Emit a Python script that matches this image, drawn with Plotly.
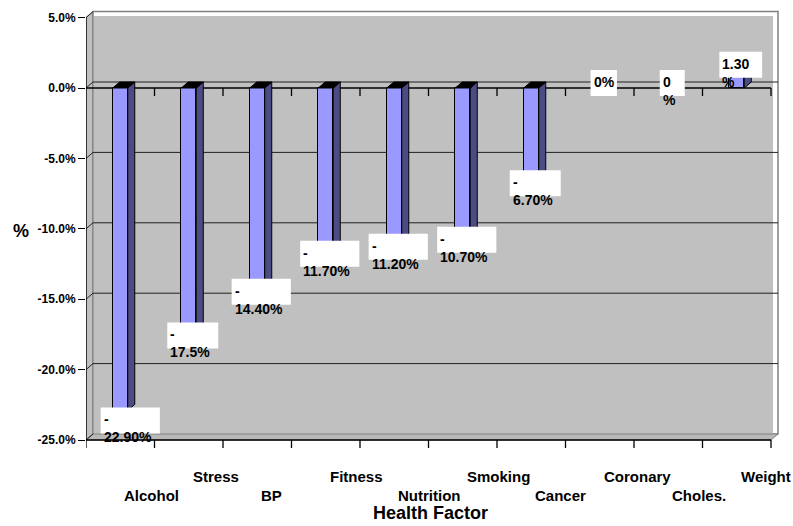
import plotly.graph_objects as go

# ---- data -------------------------------------------------------------
categories = ["Alcohol", "Stress", "BP", "Fitness", "Nutrition",
              "Smoking", "Cancer", "Coronary", "Choles.", "Weight"]
change_pct = [-22.9, -17.5, -14.4, -11.7, -11.2, -10.7, -6.7, 0.0, 0.0, 1.3]
value_labels = ["-<br>22.90%", "-<br>17.5%", "-<br>14.40%", "-<br>11.70%",
                "-<br>11.20%", "-<br>10.70%", "-<br>6.70%", "0%", "0<br>%",
                "1.30<br>%"]
y_tick_vals = [5, 0, -5, -10, -15, -20, -25]
y_tick_text = ["5.0%", "0.0%", "-5.0%", "-10.0%", "-15.0%", "-20.0%", "-25.0%"]

# ---- geometry / style ---------------------------------------------------
W, H = 793, 526
ML, MR, MT, MB = 86, 13, 10, 76
PX_CAT = 68.5          # pixels per category
PX_PCT = 14.08         # pixels per percentage point
ZERO_PX = 88           # pixel row of 0 %
Y_MIN, Y_MAX = -25, 5
X_LO = -0.5
X_HI = len(categories) - 0.5

x_range = [X_LO, X_LO + (W - ML - MR) / PX_CAT]
y_range = [-(H - MB - ZERO_PX) / PX_PCT, (ZERO_PX - MT) / PX_PCT]

DX = 7 / PX_CAT        # 3-D depth offset (x, data units)
DY = 6 / PX_PCT        # 3-D depth offset (y, data units)
BAR_W = 0.219

FRONT = "#9999FF"
SIDE = "#4C4C84"
TOPC = "#000000"
WALL = "#C0C0C0"
EDGE = "#808080"
FONT = "Arial, Liberation Sans, sans-serif"

# per-label nudges (px) for a couple of crowded data labels
label_nudge = {0: (6, -9)}

fig = go.Figure()

# front faces of the columns
fig.add_trace(go.Bar(
    x=list(range(len(categories))), y=change_pct, width=BAR_W,
    marker=dict(color=FRONT, line=dict(color="black", width=1)),
    hoverinfo="skip", showlegend=False))

# side and top faces
for i, v in enumerate(change_pct):
    if v == 0:
        continue
    r = i + BAR_W / 2
    l = i - BAR_W / 2
    fig.add_trace(go.Scatter(
        x=[r, r + DX, r + DX, r, r], y=[0, DY, v + DY, v, 0],
        mode="lines", fill="toself", fillcolor=SIDE,
        line=dict(color="black", width=1), hoverinfo="skip", showlegend=False))
    top = max(v, 0)
    fig.add_trace(go.Scatter(
        x=[l, r, r + DX, l + DX, l], y=[top, top, top + DY, top + DY, top],
        mode="lines", fill="toself",
        fillcolor=TOPC if v < 0 else "#7A7ACC",
        line=dict(color="black", width=1), hoverinfo="skip", showlegend=False))

shapes = []


def poly(pts):
    return "M " + " L ".join(f"{x},{y}" for x, y in pts) + " Z"


# side wall
shapes.append(dict(type="path", layer="below", xref="x", yref="y",
                   path=poly([(X_LO, Y_MIN), (X_LO, Y_MAX),
                              (X_LO + DX, Y_MAX + DY), (X_LO + DX, Y_MIN + DY)]),
                   fillcolor=WALL, line=dict(color=EDGE, width=1)))
# back wall (white rim + grey panel)
shapes.append(dict(type="rect", layer="below", xref="x", yref="y",
                   x0=X_LO + DX, x1=X_HI + DX, y0=Y_MIN + DY, y1=Y_MAX + DY,
                   fillcolor="white", line=dict(color=EDGE, width=1.5)))
shapes.append(dict(type="rect", layer="below", xref="x", yref="y",
                   x0=X_LO + DX + 1 / PX_CAT, x1=X_HI + DX - 5 / PX_CAT,
                   y0=Y_MIN + DY, y1=Y_MAX + DY - 4.5 / PX_PCT,
                   fillcolor=WALL, line=dict(width=0)))
# floor
shapes.append(dict(type="path", layer="below", xref="x", yref="y",
                   path=poly([(X_LO, Y_MIN), (X_HI, Y_MIN),
                              (X_HI + DX, Y_MIN + DY), (X_LO + DX, Y_MIN + DY)]),
                   fillcolor="#B8B8B8", line=dict(color=EDGE, width=1)))
# gridlines on the back wall and their slanted side-wall ticks
for v in y_tick_vals:
    if Y_MIN < v < Y_MAX:
        shapes.append(dict(type="line", layer="below", xref="x", yref="y",
                           x0=X_LO + DX, x1=X_HI + DX, y0=v + DY, y1=v + DY,
                           line=dict(color="#202020", width=1)))
    shapes.append(dict(type="line", layer="below", xref="x", yref="y",
                       x0=X_LO, x1=X_LO + DX, y0=v, y1=v + DY,
                       line=dict(color="#202020", width=1)))
# front value axis line
shapes.append(dict(type="line", layer="below", xref="x", yref="y",
                   x0=X_LO, x1=X_LO, y0=Y_MIN, y1=Y_MAX,
                   line=dict(color="black", width=1.3)))
# category axis at 0 and front floor edge, each with ticks
for base in (0, Y_MIN):
    shapes.append(dict(type="line", layer="below", xref="x", yref="y",
                       x0=X_LO, x1=X_HI, y0=base, y1=base,
                       line=dict(color="black", width=1.3)))
    for k in range(0 if base == Y_MIN else 1, len(categories) + 1):
        shapes.append(dict(type="line", layer="below", xref="x", yref="y",
                           xsizemode="scaled", ysizemode="pixel",
                           yanchor=base, x0=k - 0.5, x1=k - 0.5, y0=0, y1=-8,
                           line=dict(color="black", width=1.3)))

annotations = []

# data labels: white box with left-aligned text spilling past the box
for i, (v, txt) in enumerate(zip(change_pct, value_labels)):
    lines = txt.split("<br>")
    n = max(len(s) for s in lines)
    bw = max(25, 8.2 * n + 10)
    ndx, ndy = label_nudge.get(i, (0, 0))
    cx = 4 + ndx
    cy = (-1 if v < 0 else 5) + ndy
    shapes.append(dict(type="rect", layer="above", xref="x", yref="y",
                       xsizemode="pixel", ysizemode="pixel",
                       xanchor=i, yanchor=v,
                       x0=cx - bw / 2, x1=cx + bw / 2, y0=cy - 13, y1=cy + 13,
                       fillcolor="white", line=dict(width=0)))
    annotations.append(dict(x=i, y=v, xref="x", yref="y", text=txt,
                            showarrow=False, xanchor="left", yanchor="top",
                            align="left", xshift=cx - bw / 2 + 1,
                            yshift=cy + 13 - 2,
                            font=dict(family=FONT, size=14, color="black",
                                      weight="bold")))

# staggered category labels
for i, name in enumerate(categories):
    annotations.append(dict(x=i, y=Y_MIN, xref="x", yref="y", text=name,
                            showarrow=False, xanchor="left", yanchor="middle",
                            xshift=2, yshift=-55 if i % 2 == 0 else -36,
                            font=dict(family=FONT, size=15, color="black",
                                      weight="bold")))

# axis titles
annotations.append(dict(x=(X_LO + X_HI) / 2, y=Y_MIN, xref="x", yref="y",
                        text="Health Factor", showarrow=False,
                        xanchor="center", yanchor="middle", xshift=2, yshift=-73,
                        font=dict(family=FONT, size=18, color="black",
                                  weight="bold")))
annotations.append(dict(x=X_LO, y=-10, xref="x", yref="y", text="%",
                        showarrow=False, xanchor="center", yanchor="middle",
                        xshift=-65, yshift=-2,
                        font=dict(family=FONT, size=18, color="black",
                                  weight="bold")))

fig.update_layout(
    width=W, height=H,
    margin=dict(l=ML, r=MR, t=MT, b=MB, pad=0),
    paper_bgcolor="white", plot_bgcolor="white",
    showlegend=False, bargap=0,
    shapes=shapes, annotations=annotations,
    xaxis=dict(range=x_range, showgrid=False, zeroline=False, showline=False,
               showticklabels=False, ticks="", fixedrange=True),
    yaxis=dict(range=y_range, showgrid=False, zeroline=False, showline=False,
               tickvals=y_tick_vals, ticktext=y_tick_text, ticks="outside",
               ticklen=7, tickwidth=1.3, tickcolor="black",
               tickfont=dict(family=FONT, size=12, color="black", weight="bold"),
               fixedrange=True),
)

fig.write_html("out.html", config={"displayModeBar": False})
